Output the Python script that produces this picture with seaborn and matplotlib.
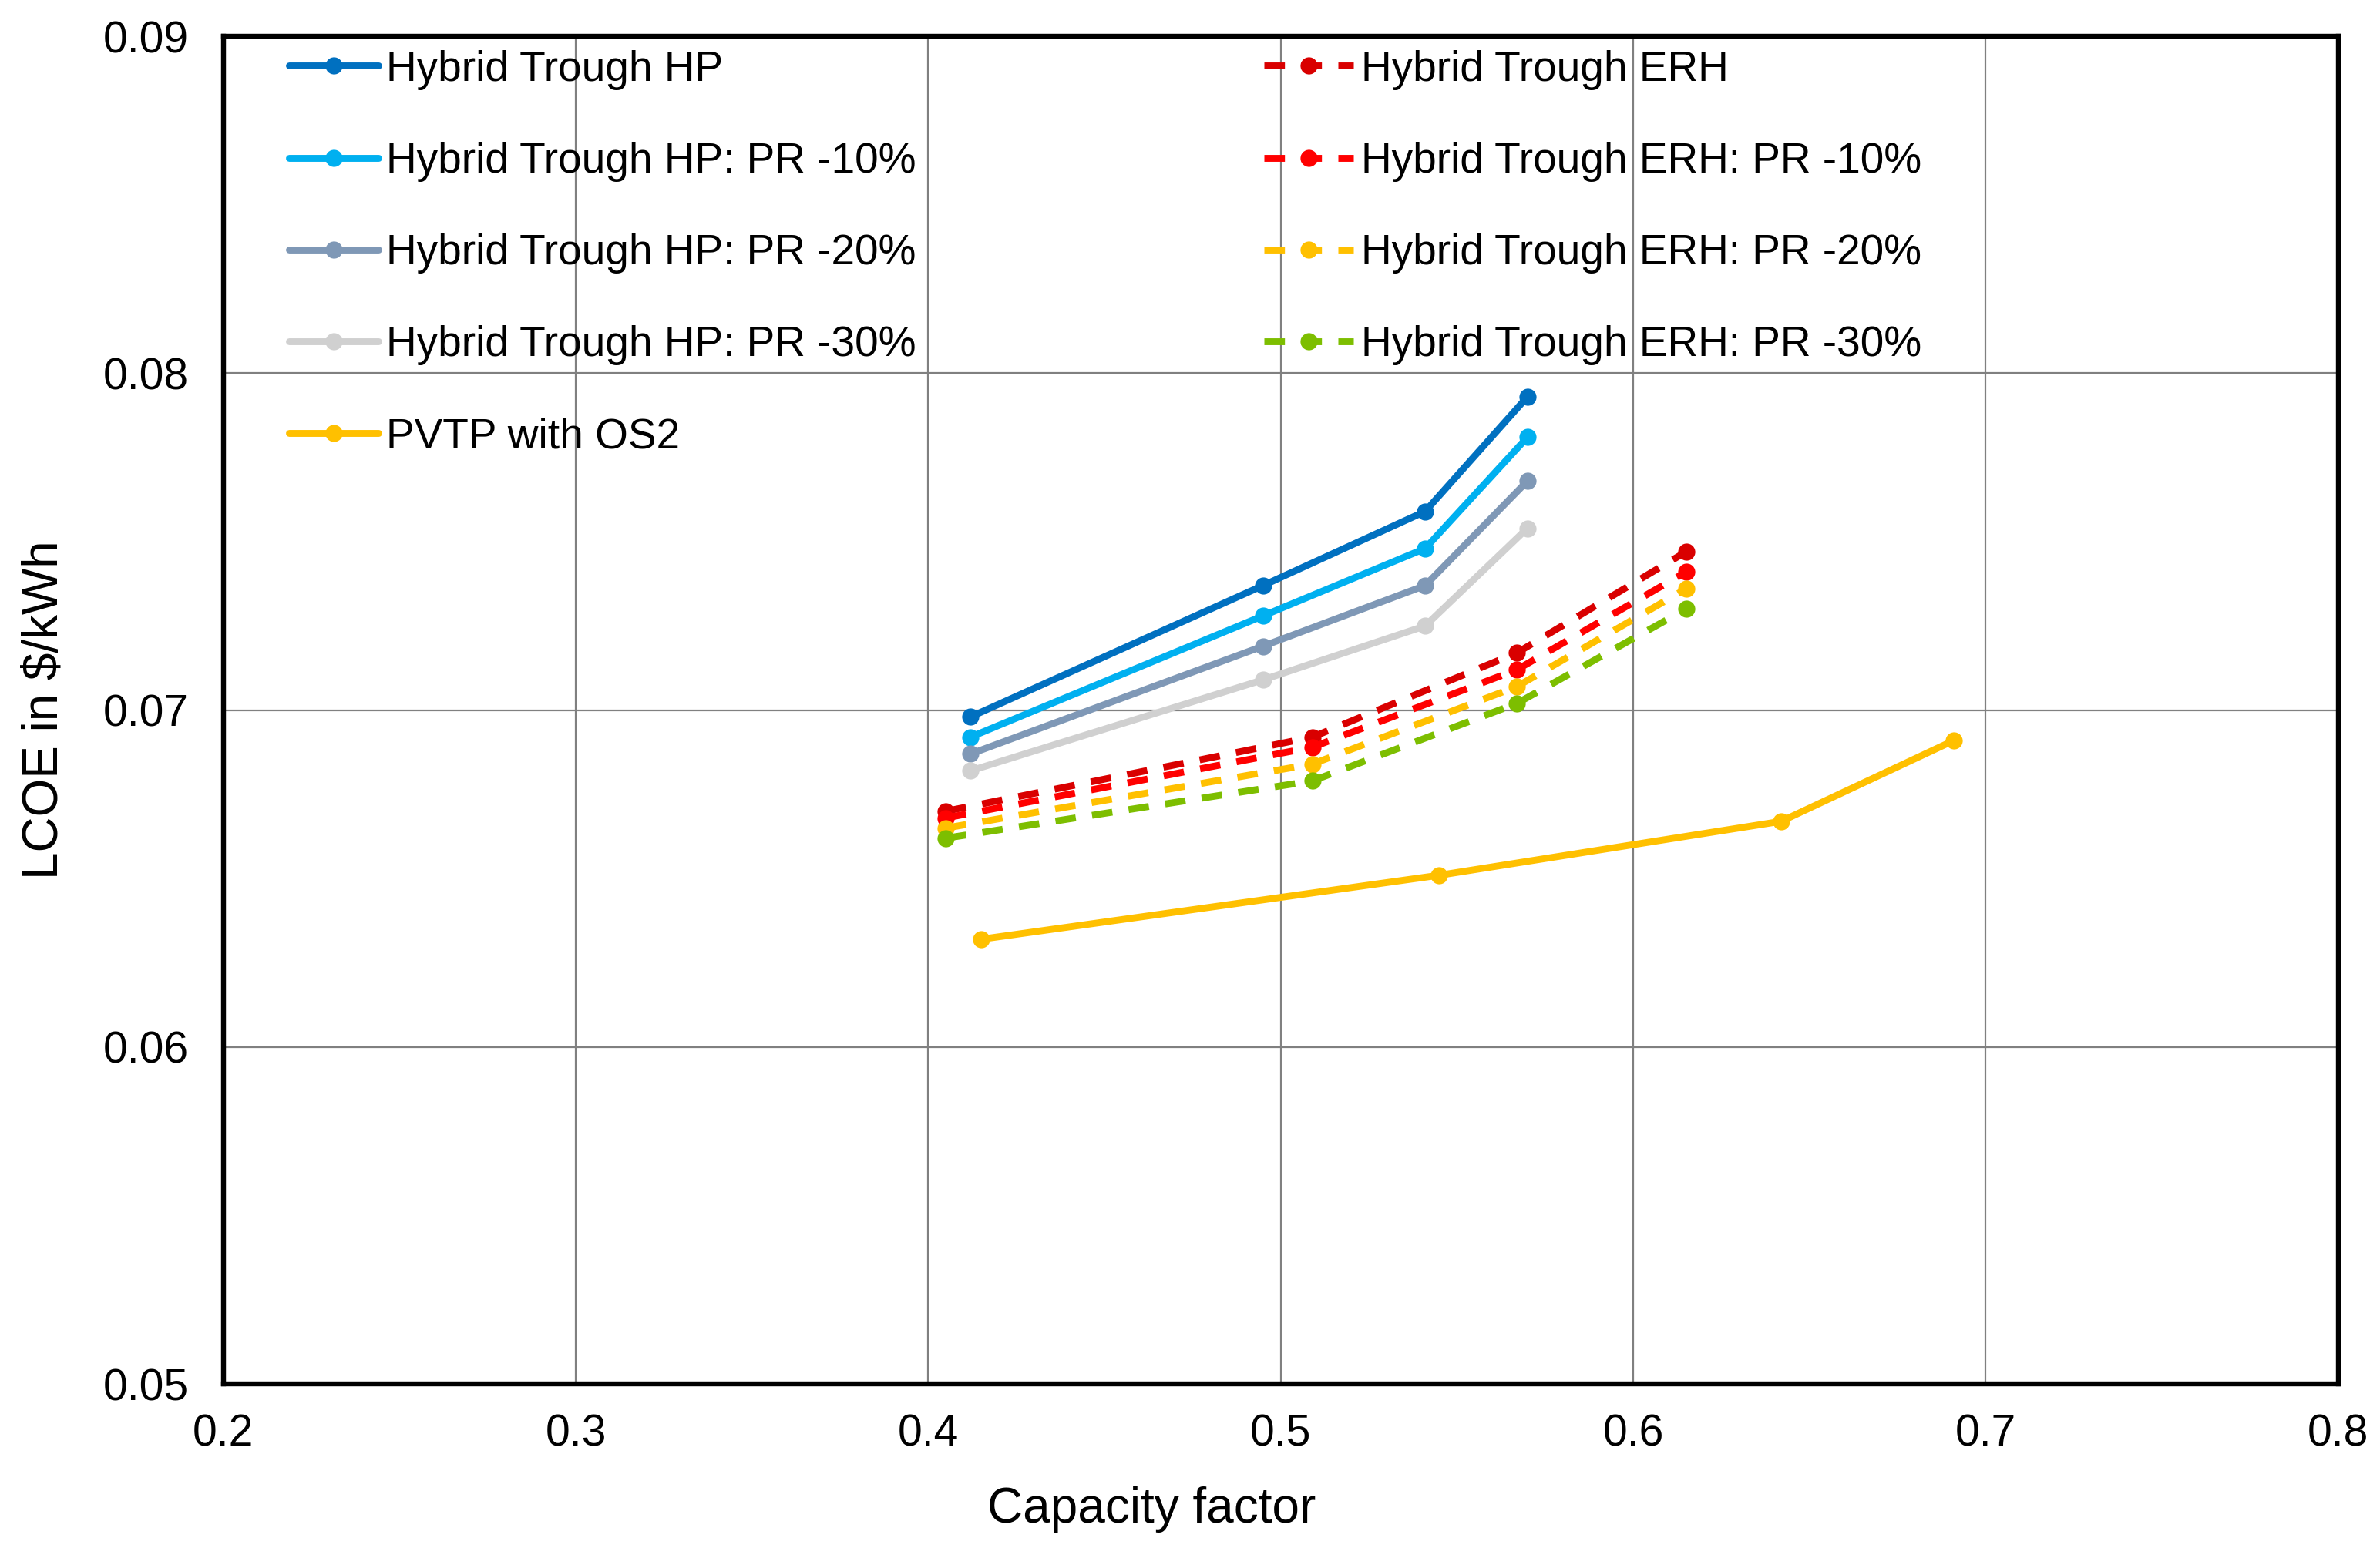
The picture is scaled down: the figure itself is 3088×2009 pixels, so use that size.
import numpy as np
import pandas as pd
import matplotlib
matplotlib.use('Agg')
import matplotlib.pyplot as plt
import seaborn as sns

# Data
hp_cf = [0.412, 0.495, 0.541, 0.570]
hp = [0.0698, 0.0737, 0.0759, 0.0793]
hp_pr10 = [0.0692, 0.0728, 0.0748, 0.0781]
hp_pr20 = [0.0687, 0.0719, 0.0737, 0.0768]
hp_pr30 = [0.0682, 0.0709, 0.0725, 0.0754]

erh_cf = [0.405, 0.509, 0.567, 0.615]
erh = [0.0670, 0.0692, 0.0717, 0.0747]
erh_pr10 = [0.0668, 0.0689, 0.0712, 0.0741]
erh_pr20 = [0.0665, 0.0684, 0.0707, 0.0736]
erh_pr30 = [0.0662, 0.0679, 0.0702, 0.0730]

pvtp_cf = [0.415, 0.545, 0.642, 0.691]
pvtp = [0.0632, 0.0651, 0.0667, 0.0691]

x_ticks = [0.2, 0.3, 0.4, 0.5, 0.6, 0.7, 0.8]
y_ticks = [0.05, 0.06, 0.07, 0.08, 0.09]

sns.set_style('white')
plt.rcParams['font.family'] = ['Liberation Sans', 'DejaVu Sans']
plt.rcParams['text.color'] = 'black'
plt.rcParams['axes.labelcolor'] = 'black'
plt.rcParams['xtick.color'] = 'black'
plt.rcParams['ytick.color'] = 'black'

fig = plt.figure(figsize=(15.44, 10.045), dpi=200)
ax = fig.add_axes([0.0938, 0.106, 0.8886, 0.8705])

dash = (0, (3, 2.4))
# (label, x, y, color, linestyle)
series = [
    ('Hybrid Trough HP', hp_cf, hp, '#0070C0', '-'),
    ('Hybrid Trough HP: PR -10%', hp_cf, hp_pr10, '#00B0F0', '-'),
    ('Hybrid Trough HP: PR -20%', hp_cf, hp_pr20, '#7F98B6', '-'),
    ('Hybrid Trough HP: PR -30%', hp_cf, hp_pr30, '#D0D0D0', '-'),
    ('PVTP with OS2', pvtp_cf, pvtp, '#FFC000', '-'),
    ('Hybrid Trough ERH', erh_cf, erh, '#D90000', dash),
    ('Hybrid Trough ERH: PR -10%', erh_cf, erh_pr10, '#FF0000', dash),
    ('Hybrid Trough ERH: PR -20%', erh_cf, erh_pr20, '#FFC000', dash),
    ('Hybrid Trough ERH: PR -30%', erh_cf, erh_pr30, '#7DBE00', dash),
]

handles = []
for label, xs, ys, color, ls in series:
    df = pd.DataFrame({'cf': xs, 'lcoe': ys})
    sns.lineplot(data=df, x='cf', y='lcoe', ax=ax, color=color, linewidth=3.2,
                 marker='o', markersize=8, markeredgewidth=0, sort=False,
                 estimator=None, label=label, legend=False)
    ax.lines[-1].set_linestyle(ls)
    handles.append(ax.lines[-1])

ax.set_xlim(0.2, 0.8)
ax.set_ylim(0.05, 0.09)
ax.set_xticks(x_ticks)
ax.set_yticks(y_ticks)
ax.set_xticklabels([f'{v:g}' for v in x_ticks])
ax.set_yticklabels([f'{v:g}' for v in y_ticks])
ax.tick_params(axis='both', length=0, labelsize=20.5, labelcolor='black')
ax.tick_params(axis='x', pad=14)
ax.tick_params(axis='y', pad=16)
ax.grid(True, color='#808080', linewidth=0.8)
for s in ax.spines.values():
    s.set_color('black')
    s.set_linewidth(2.3)
    s.set_visible(True)

ax.set_xlabel('Capacity factor', fontsize=23, color='black')
ax.set_ylabel(r'LCOE in \$/kWh', fontsize=23, color='black')
ax.xaxis.set_label_coords(0.439, -0.076)
ax.yaxis.set_label_coords(-0.0735, 0.5)

leg_kw = dict(frameon=False, fontsize=19.8, loc='upper left', borderpad=0,
              borderaxespad=0, handlelength=2.12, handletextpad=0.18,
              labelspacing=1.22, labelcolor='black')
leg1 = ax.legend(handles=handles[:5], labels=[s[0] for s in series[:5]],
                 bbox_to_anchor=(0.031, 0.99), **leg_kw)
ax.add_artist(leg1)
ax.legend(handles=handles[5:], labels=[s[0] for s in series[5:]],
          bbox_to_anchor=(0.492, 0.99), **leg_kw)

fig.savefig('out.png', dpi=200)
